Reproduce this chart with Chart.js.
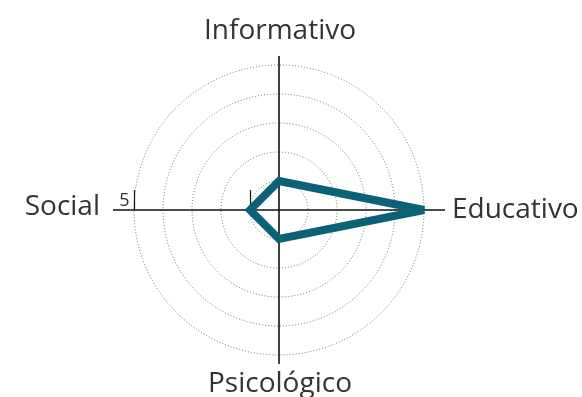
<!DOCTYPE html>
<html>
<head>
<meta charset="utf-8">
<script src="https://cdn.jsdelivr.net/npm/chart.js@4.4.0/dist/chart.umd.min.js"></script>
<style>
  body { margin: 0; background: #fff; }
  canvas { display: block; }
</style>
</head>
<body>
<canvas id="radar" width="582" height="397"></canvas>
<script>
// dimensions of the radar and their scores (0-5)
var categories = ['Informativo', 'Educativo', 'Psicológico', 'Social'];
var scores = [1, 5, 1, 1];
var tickValues = [1, 5];
var tickLabels = ['', '5'];

var TEAL = '#0b6276';
var TEXT = '#333333';

// axis crosshair, little ticks on the Social axis and the big category labels
var decorations =
{
	id: 'decorations',
	beforeDatasetsDraw: function(chart)
	{
		var ctx = chart.ctx;
		var s = chart.scales.r;
		ctx.save();
		ctx.strokeStyle = '#111';
		ctx.lineWidth = 1.6;
		// horizontal axes stick out further than vertical ones
		var ext = [9, 21, 9, 21];
		for (var i = 0; i < categories.length; i++)
		{
			var p = s.getPointPosition(i, s.drawingArea + ext[i]);
			ctx.beginPath();
			ctx.moveTo(s.xCenter, s.yCenter);
			ctx.lineTo(p.x, p.y);
			ctx.stroke();
		}
		// ticks on the left axis
		ctx.lineWidth = 1.2;
		ctx.fillStyle = TEXT;
		ctx.font = '18px "Open Sans"';
		ctx.textAlign = 'right';
		ctx.textBaseline = 'alphabetic';
		for (var t = 0; t < tickValues.length; t++)
		{
			var q = s.getPointPosition(3, s.getDistanceFromCenterForValue(tickValues[t]));
			var x = Math.round(q.x) + 0.5;
			ctx.beginPath();
			ctx.moveTo(x, q.y - 20);
			ctx.lineTo(x, q.y);
			ctx.stroke();
			if (tickLabels[t]) ctx.fillText(tickLabels[t], x - 5, q.y - 4);
		}
		// category labels
		ctx.font = '28px "Open Sans"';
		var pad = [26, 27, 37, 35];
		var align = ['center', 'left', 'center', 'right'];
		var dy = [0, 8, 0, 5];
		for (var k = 0; k < categories.length; k++)
		{
			var r = s.getPointPosition(k, s.drawingArea + pad[k]);
			ctx.textAlign = align[k];
			ctx.fillText(categories[k], r.x + 1, r.y + dy[k]);
		}
		ctx.restore();
		ctx.miterLimit = 4;
	}
};

var ctx = document.getElementById('radar').getContext('2d');
var myChart = new Chart(ctx,
{
	type: 'radar',
	data:
	{
		labels: categories,
		datasets:
		[{
			data: scores,
			fill: false,
			borderColor: TEAL,
			borderWidth: 8,
			borderJoinStyle: 'miter',
			pointRadius: 0,
			tension: 0
		}]
	},
	options:
	{
		responsive: false,
		animation: false,
		layout: { padding: { left: 134, right: 158, top: 65, bottom: 42 } },
		plugins:
		{
			legend: { display: false },
			tooltip: { enabled: false }
		},
		scales:
		{
			r:
			{
				min: 0,
				max: 5,
				ticks: { display: false, stepSize: 1 },
				pointLabels: { display: false },
				angleLines: { display: false },
				grid: { circular: true, color: '#6e6e6e', lineWidth: 1 },
				border: { dash: [1, 2] }
			}
		}
	},
	plugins: [decorations]
});
</script>
</body>
</html>
